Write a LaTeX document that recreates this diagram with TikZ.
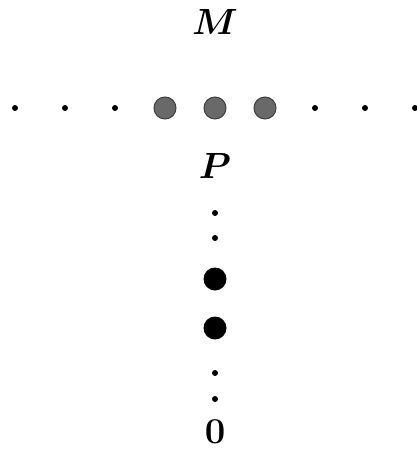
\documentclass[tikz,border=0pt]{standalone}
\usepackage{amsmath}
\usepackage{bm}
\usetikzlibrary{positioning}
\definecolor{dotgray}{RGB}{105,105,105}
\tikzset{
  smalldot/.style={circle, fill=black, inner sep=0pt, minimum size=1.2mm},
  greydot/.style={circle, fill=dotgray, draw=black!75, line width=0.6pt, inner sep=0pt, minimum size=4.4mm},
  blackdot/.style={circle, fill=black, inner sep=0pt, minimum size=4.6mm},
  biglabel/.style={font=\fontsize{20}{24}\selectfont, inner sep=0pt},
}

\begin{document}
\begin{tikzpicture}
    \useasboundingbox (0,0) rectangle (8.34,-9);

    % Draw the row
    \foreach \i in {0,1,2} {
        \node[smalldot] (left\i) at (0.3+\i, -2.16) {};
        \node[greydot] (mid\i) at (3.3+\i, -2.16) {};
        \node[smalldot] (right\i) at (6.3+\i, -2.16) {};
    }

    % Draw the column
    \node[smalldot] (up0) at (4.3, -4.26) {};
    \node[smalldot] (up1) at (4.3, -4.76) {};
    \node[blackdot] (pt0) at (4.3, -5.58) {};
    \node[blackdot] (pt1) at (4.3, -6.56) {};
    \node[smalldot] (down0) at (4.3, -7.46) {};
    \node[smalldot] (down1) at (4.3, -7.98) {};

    % Labels
    \node[biglabel] (M) at (4.3, -0.43) {$\bm{M}$};
    \node[biglabel] (P) at (4.3, -3.31) {$\bm{P}$};
    \node[biglabel] (zero) at (4.3, -8.64) {$\mathbf{0}$};
\end{tikzpicture}
\end{document}
